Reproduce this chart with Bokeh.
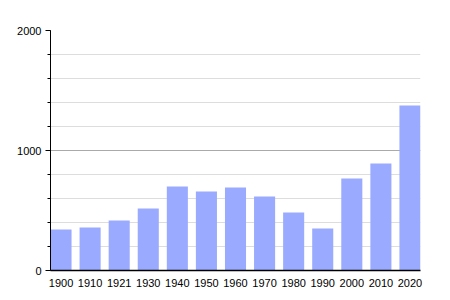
from bokeh.plotting import figure
from bokeh.models import Range1d, FixedTicker, ColumnDataSource
from bokeh.embed import file_html
from bokeh.resources import INLINE

years = ["1900", "1910", "1921", "1930", "1940", "1950", "1960", "1970", "1980", "1990", "2000", "2010", "2020"]
population = [342, 358, 417, 517, 700, 658, 692, 617, 483, 350, 767, 892, 1375]

xs = list(range(len(years)))
src = ColumnDataSource(dict(x=xs, top=population))

bw = 0.724
p = figure(width=450, height=300, output_backend="svg", toolbar_location=None,
           x_range=Range1d(-bw / 2, len(years) - 1 + bw / 2), y_range=Range1d(0, 2000),
           min_border_left=50, min_border_right=30, min_border_top=30, min_border_bottom=30)
p.outline_line_color = None
p.background_fill_color = "white"

p.vbar(x="x", top="top", width=bw, source=src, fill_color="#99AAFF", line_color=None)

# x axis
p.xaxis.ticker = FixedTicker(ticks=xs)
p.xaxis.major_label_overrides = {i: y for i, y in enumerate(years)}
p.xaxis.major_tick_line_color = None
p.xaxis.minor_tick_line_color = None
p.xaxis.axis_line_color = "black"
p.xaxis.axis_line_width = 1.5
p.xaxis.major_label_standoff = 2
p.xaxis.major_label_text_font = "Liberation Sans"
p.xaxis.major_label_text_font_size = "11px"
p.xaxis.major_label_text_color = "black"
p.xgrid.grid_line_color = None

# y axis
p.yaxis.ticker = FixedTicker(ticks=[0, 1000, 2000], minor_ticks=list(range(0, 2001, 200)))
p.yaxis.axis_line_color = "black"
p.yaxis.major_tick_line_color = "black"
p.yaxis.major_tick_in = 0
p.yaxis.major_tick_out = 5
p.yaxis.minor_tick_line_color = "black"
p.yaxis.minor_tick_in = 0
p.yaxis.minor_tick_out = 3
p.yaxis.major_label_text_font = "Liberation Sans"
p.yaxis.major_label_text_font_size = "11px"
p.yaxis.major_label_text_color = "black"
p.yaxis.major_label_standoff = 4
p.ygrid.grid_line_color = "#aaaaaa"
p.ygrid.minor_grid_line_color = "#dddddd"
p.ygrid.level = "underlay"

open("out.html", "w").write(file_html(p, INLINE))
